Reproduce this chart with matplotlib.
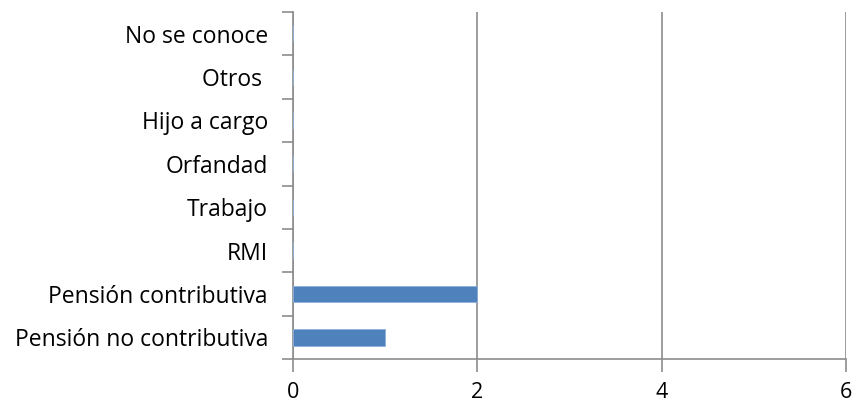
import matplotlib
matplotlib.use("Agg")
import matplotlib.pyplot as plt
import numpy as np

categories = ["Pensión no contributiva", "Pensión contributiva", "RMI", "Trabajo",
              "Orfandad", "Hijo a cargo", "Otros ", "No se conoce"]
values = [1, 2, 0, 0, 0, 0, 0, 0]
xticks = [0, 2, 4, 6]

plt.rcParams['font.family'] = ['Open Sans', 'DejaVu Sans']
fig = plt.figure(figsize=(8.57, 4.05), dpi=100)
ax = fig.add_axes([293/857, 1-359/405, (846-293)/857, (359-12)/405])

y = np.arange(len(categories))
ax.barh(y, values, height=0.385, color="#4F81BD", edgecolor="#8EB0DA", linewidth=0.6, zorder=3)
ax.set_xlim(0, 6)
ax.set_ylim(-0.5, len(categories)-0.5)
ax.set_xticks(xticks)
ax.set_xticklabels([str(v) for v in xticks], fontsize=15.5)
ax.set_yticks(y)
ax.set_yticklabels(categories, fontsize=16.5)
ax.set_yticks(np.arange(-0.5, len(categories), 1), minor=True)
ax.tick_params(axis='y', which='major', length=0, pad=18)
ax.tick_params(axis='y', which='minor', length=8, color="#8c8c8c", width=1.2)
ax.tick_params(axis='x', length=9, color="#8c8c8c", width=1.2, pad=7.5)
for s in ['top', 'right']:
    ax.spines[s].set_visible(False)
for s in ['left', 'bottom']:
    ax.spines[s].set_color("#8c8c8c")
    ax.spines[s].set_linewidth(1.2)
ax.grid(axis='x', color="#8c8c8c", linewidth=1.2, zorder=0)
ax.set_axisbelow(True)
fig.savefig("out.png", dpi=100)
